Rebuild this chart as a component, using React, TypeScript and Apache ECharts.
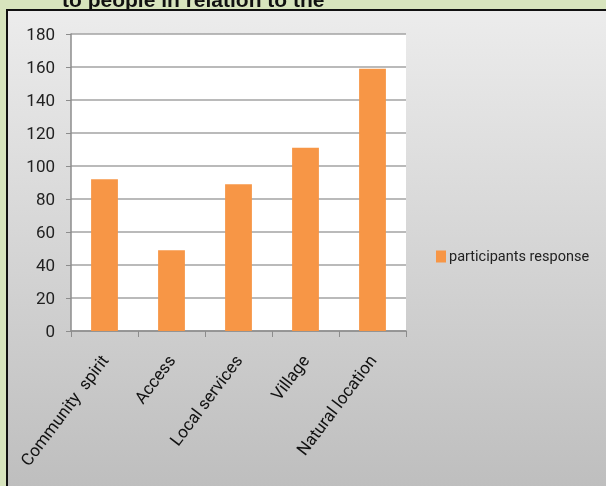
import React, { useEffect, useRef } from "react";
import * as echarts from "echarts";

const categories = ["Community  spirit", "Access", "Local services", "Village", "Natural location"];
const responses = [92, 49, 89, 111, 159];
const seriesName = "participants response";
const titleText = "to people in relation to the";

export default function App() {
  const ref = useRef<HTMLDivElement>(null);
  useEffect(() => {
    if (!ref.current) return;
    const chart = echarts.init(ref.current, null, { renderer: "svg" });
    const font = "Roboto, 'Open Sans', sans-serif";
    chart.setOption({
      animation: false,
      graphic: [
        { type: "rect", z: -10, shape: { x: 0, y: 0, width: 606, height: 486 }, style: { fill: "#d7e4bd" } },
        {
          type: "text", z: -9, x: 62, y: 10,
          style: { text: titleText, fontSize: 21, fontWeight: "bold", fill: "#111", fontFamily: "'Liberation Sans', sans-serif", verticalAlign: "bottom" },
        },
        {
          type: "rect", z: -8,
          shape: { x: 7, y: 10, width: 610, height: 490 },
          style: {
            fill: new echarts.graphic.LinearGradient(0, 0, 0, 1, [
              { offset: 0, color: "#ececec" },
              { offset: 1, color: "#bdbdbd" },
            ]),
            stroke: "#111", lineWidth: 2,
          },
        },
      ],
      grid: { left: 71, top: 34, right: 200, bottom: 155, show: true, backgroundColor: "#ffffff", borderWidth: 0 },
      legend: {
        left: 431, top: 244, itemWidth: 10, itemHeight: 12, icon: "rect",
        textStyle: { fontSize: 14.5, color: "#222", fontFamily: font, padding: [0, 0, 0, -2] },
        data: [seriesName],
      },
      xAxis: {
        type: "category", data: categories,
        axisLine: { lineStyle: { color: "#8c8c8c", width: 1.5 } },
        axisTick: { show: true, length: 6, lineStyle: { color: "#8c8c8c" } },
        axisLabel: { rotate: 53, fontSize: 17, color: "#111", margin: 26, fontFamily: font, interval: 0 },
      },
      yAxis: {
        type: "value", min: 0, max: 180, interval: 20,
        axisLine: { show: true, lineStyle: { color: "#8c8c8c", width: 1.5 } },
        axisTick: { show: true, length: 5, lineStyle: { color: "#8c8c8c" } },
        splitLine: { lineStyle: { color: "#a3a3a3", width: 1.5 } },
        axisLabel: { fontSize: 17, color: "#222", margin: 16, fontFamily: font },
      },
      series: [
        { name: seriesName, type: "bar", data: responses, barWidth: "40%", itemStyle: { color: "#f79646" } },
      ],
    });
    return () => chart.dispose();
  }, []);
  return <div ref={ref} style={{ position: "fixed", left: 0, top: 0, width: 606, height: 486 }} />;
}
